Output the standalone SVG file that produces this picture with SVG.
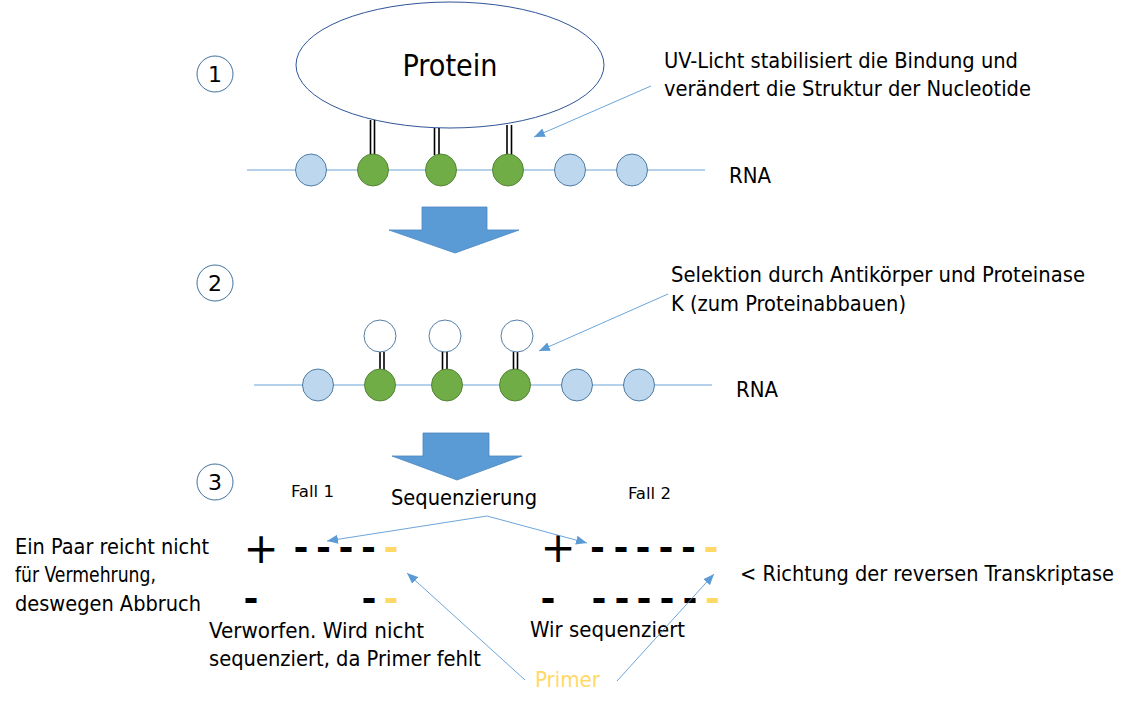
<svg xmlns="http://www.w3.org/2000/svg" width="1128" height="708" viewBox="0 0 1128 708">
<style>
.t{font-family:"DejaVu Sans Condensed","DejaVu Sans",sans-serif;fill:#000;font-size:20.5px}
.s{font-size:15px}
.num{font-family:"DejaVu Sans",sans-serif;font-size:22px;text-anchor:middle}
.nc{fill:#fff;stroke:#41719C;stroke-width:1}
.rna{stroke:#9DC3E6;stroke-width:1.3;fill:none}
.lb{fill:#BDD7EE;stroke:#41719C;stroke-width:0.9}
.gr{fill:#70AD47;stroke:#507E32;stroke-width:0.9}
.wh{fill:#fff;stroke:#41719C;stroke-width:0.9}
.bond{stroke:#000;stroke-width:1.6}
.big{fill:#5B9BD5;stroke:#4A86C0;stroke-width:0.8}
.con{stroke:#5B9BD5;stroke-width:0.9;fill:none;marker-end:url(#ah)}
.sym{font-family:"DejaVu Sans",sans-serif;font-size:40px;text-anchor:middle}
.d{font-family:"DejaVu Sans",sans-serif;font-size:36px;font-weight:bold;text-anchor:middle}
.y{fill:#FFD966}
</style>
<defs>
<marker id="ah" markerUnits="userSpaceOnUse" markerWidth="12" markerHeight="10" refX="11" refY="5" orient="auto">
<path d="M0,0.5 L11,5 L0,9.5 z" fill="#5B9BD5"/>
</marker>
</defs>
<rect width="1128" height="708" fill="#fff"/>

<g id="step1">
<circle class="nc" cx="215" cy="74" r="18"/>
<text class="num" x="215" y="82">1</text>
</g>
<g id="protein">
<ellipse cx="450" cy="65" rx="154" ry="63" fill="#fff" stroke="#2F5597" stroke-width="1"/>
<text class="t" x="450" y="76" text-anchor="middle" textLength="95" lengthAdjust="spacingAndGlyphs" style="font-size:30px">Protein</text>
</g>
<g id="note1">
<text class="t" x="664" y="68" textLength="354" lengthAdjust="spacingAndGlyphs">UV-Licht stabilisiert die Bindung und</text>
<text class="t" x="664" y="96" textLength="367" lengthAdjust="spacingAndGlyphs">verändert die Struktur der Nucleotide</text>
</g>
<g id="rna1">
<line class="rna" x1="247" y1="170" x2="705" y2="170"/>
<line class="bond" x1="370.5" y1="120" x2="370.5" y2="155"/>
<line class="bond" x1="374.5" y1="120" x2="374.5" y2="155"/>
<line class="bond" x1="434.5" y1="128" x2="434.5" y2="155"/>
<line class="bond" x1="439" y1="128" x2="439" y2="155"/>
<line class="bond" x1="507" y1="125" x2="507" y2="155"/>
<line class="bond" x1="511.5" y1="125" x2="511.5" y2="155"/>
<ellipse class="lb" cx="311" cy="170" rx="15.5" ry="16"/>
<ellipse class="gr" cx="373" cy="170" rx="15.5" ry="16"/>
<ellipse class="gr" cx="441" cy="170" rx="15.5" ry="16"/>
<ellipse class="gr" cx="508" cy="170" rx="15.5" ry="16"/>
<ellipse class="lb" cx="570" cy="170" rx="15.5" ry="16"/>
<ellipse class="lb" cx="632" cy="170" rx="15.5" ry="16"/>
<text class="t" x="729" y="183" textLength="42" lengthAdjust="spacingAndGlyphs">RNA</text>
</g>
<g id="arrow1">
<polygon class="big" points="422,207 487,207 487,230 519,230 455,253 389,230 422,230"/>
</g>

<g id="step2">
<circle class="nc" cx="215" cy="283" r="18"/>
<text class="num" x="215" y="291">2</text>
</g>
<g id="note2">
<text class="t" x="671" y="282" textLength="414" lengthAdjust="spacingAndGlyphs">Selektion durch Antikörper und Proteinase</text>
<text class="t" x="671" y="311" textLength="235" lengthAdjust="spacingAndGlyphs">K (zum Proteinabbauen)</text>
</g>
<g id="rna2">
<line class="rna" x1="254" y1="385" x2="712" y2="385"/>
<line class="bond" x1="380" y1="352" x2="380" y2="370"/>
<line class="bond" x1="384" y1="352" x2="384" y2="370"/>
<line class="bond" x1="442.5" y1="352" x2="442.5" y2="370"/>
<line class="bond" x1="447" y1="352" x2="447" y2="370"/>
<line class="bond" x1="513.5" y1="352" x2="513.5" y2="370"/>
<line class="bond" x1="517.5" y1="352" x2="517.5" y2="370"/>
<circle class="wh" cx="380" cy="336" r="16"/>
<circle class="wh" cx="445" cy="336" r="16"/>
<circle class="wh" cx="517" cy="336" r="16"/>
<ellipse class="lb" cx="318" cy="385" rx="15.5" ry="16"/>
<ellipse class="gr" cx="380" cy="385" rx="15.5" ry="16"/>
<ellipse class="gr" cx="447" cy="385" rx="15.5" ry="16"/>
<ellipse class="gr" cx="515" cy="385" rx="15.5" ry="16"/>
<ellipse class="lb" cx="577" cy="385" rx="15.5" ry="16"/>
<ellipse class="lb" cx="639" cy="385" rx="15.5" ry="16"/>
<text class="t" x="736" y="397" textLength="42" lengthAdjust="spacingAndGlyphs">RNA</text>
</g>
<g id="arrow2">
<polygon class="big" points="423,433 489,433 489,456 522,456 457,480 392,456 423,456"/>
</g>

<g id="step3">
<circle class="nc" cx="215" cy="482" r="18"/>
<text class="num" x="215" y="490">3</text>
</g>
<g id="labels3">
<text class="t s" x="291" y="497" textLength="43" lengthAdjust="spacingAndGlyphs">Fall 1</text>
<text class="t s" x="628" y="499" textLength="43" lengthAdjust="spacingAndGlyphs">Fall 2</text>
<text class="t" x="391" y="505" textLength="146" lengthAdjust="spacingAndGlyphs">Sequenzierung</text>
</g>
<g id="fall1">
<text class="t" x="15" y="554" textLength="194" lengthAdjust="spacingAndGlyphs">Ein Paar reicht nicht</text>
<text class="t" x="15" y="582" textLength="141" lengthAdjust="spacingAndGlyphs">für Vermehrung,</text>
<text class="t" x="15" y="611" textLength="186" lengthAdjust="spacingAndGlyphs">deswegen Abbruch</text>
<text class="sym" x="261" y="563" style="font-size:42px">+</text>
<text class="d" x="301 323.5 346 368.5" y="560">----</text>
<text class="d y" x="391" y="560">-</text>
<text class="d" x="251 369" y="611">--</text>
<text class="d y" x="391" y="611">-</text>
<text class="t" x="209" y="638" textLength="215" lengthAdjust="spacingAndGlyphs">Verworfen. Wird nicht</text>
<text class="t" x="209" y="666" textLength="272" lengthAdjust="spacingAndGlyphs">sequenziert, da Primer fehlt</text>
</g>
<g id="fall2">
<text class="sym" x="558" y="562" style="font-size:42px">+</text>
<text class="d" x="597.5 621 643 666 688.5" y="560">-----</text>
<text class="d y" x="711" y="560">-</text>
<text class="d" x="548 599 622 644 667 690" y="611">------</text>
<text class="d y" x="712.5" y="611">-</text>
<text class="t" x="530" y="637" textLength="155" lengthAdjust="spacingAndGlyphs">Wir sequenziert</text>
<text class="t" x="740" y="581" textLength="374" lengthAdjust="spacingAndGlyphs">&lt; Richtung der reversen Transkriptase</text>
</g>
<g id="primer">
<text class="t y" x="535" y="687" textLength="65" lengthAdjust="spacingAndGlyphs">Primer</text>
</g>

<g id="connectors">
<line class="con" x1="651" y1="86" x2="534" y2="137"/>
<line class="con" x1="668" y1="294" x2="539" y2="351"/>
<line class="con" x1="487" y1="516" x2="327" y2="541"/>
<line class="con" x1="487" y1="516" x2="587" y2="543"/>
<line class="con" x1="525" y1="680" x2="407" y2="573"/>
<line class="con" x1="617" y1="681" x2="714" y2="574"/>
</g>
</svg>
